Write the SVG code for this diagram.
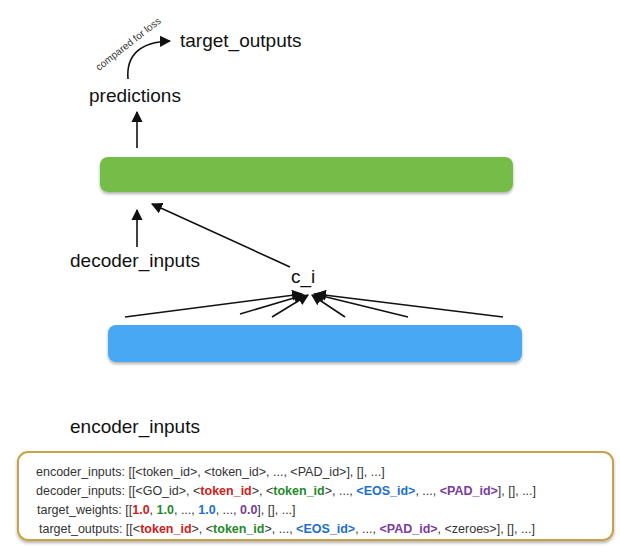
<svg xmlns="http://www.w3.org/2000/svg" width="620" height="554" viewBox="0 0 620 554">
<style>
text{font-family:"Liberation Sans",Arial,sans-serif;fill:#111}
.lbl{font-size:19px}
.small{font-size:12.5px;fill:#333}
.b{font-weight:bold}
.r{fill:#d0201a}.g{fill:#1f8a2a}.bl{fill:#1a6fd0}.p{fill:#7a3aa0}
.c{stroke:#111;stroke-width:1.6;fill:none;marker-end:url(#ah)}
</style>
<defs>
<marker id="ah" viewBox="0 0 10 10" refX="9" refY="5" markerWidth="7" markerHeight="7" orient="auto-start-reverse"><path d="M0,0L10,5L0,10z" fill="#111"/></marker>
<filter id="sh" x="-5%" y="-20%" width="110%" height="150%"><feDropShadow dx="0" dy="2" stdDeviation="1.5" flood-opacity="0.3"/></filter>
</defs>
<g id="decoder"><rect x="100" y="157" width="413" height="35" rx="8" fill="#76bc48" filter="url(#sh)"/></g>
<g id="encoder"><rect x="108" y="325" width="414" height="37" rx="8" fill="#4aa8f4" filter="url(#sh)"/></g>
<g id="predictions"><text class="lbl" x="89" y="102">predictions</text></g>
<g id="target_outputs"><text class="lbl" x="180" y="47">target_outputs</text></g>
<g id="decoder_inputs"><text class="lbl" x="70" y="267">decoder_inputs</text></g>
<g id="c_i"><text class="lbl" x="291" y="283">c_i</text></g>
<g id="encoder_inputs"><text class="lbl" x="70" y="433">encoder_inputs</text></g>
<g id="connectors">
<line class="c" x1="137" y1="148" x2="137" y2="112"/>
<path class="c" d="M128,79 C126,55 140,42 170,41"/>
<text x="0" y="0" font-size="10" transform="translate(99,71) rotate(-38)" style="fill:#333">compared for loss</text>
<line class="c" x1="137" y1="247" x2="137" y2="210"/>
<line class="c" x1="290" y1="267" x2="152" y2="204"/>
<line class="c" x1="125" y1="317" x2="302" y2="294"/>
<line class="c" x1="240" y1="314" x2="304" y2="295"/>
<line class="c" x1="272" y1="317" x2="308" y2="295"/>
<line class="c" x1="345" y1="317" x2="312" y2="295"/>
<line class="c" x1="408" y1="317" x2="314" y2="294"/>
<line class="c" x1="503" y1="317" x2="316" y2="294"/>
</g>
<g id="legend">
<rect x="18" y="452" width="595" height="88" rx="10" fill="#fff" stroke="#c9a24a" stroke-width="2" filter="url(#sh)"/>
<text class="small" x="36" y="476">encoder_inputs: [[&lt;token_id&gt;, &lt;token_id&gt;, ..., &lt;PAD_id&gt;], [], ...]</text>
<text class="small" x="36" y="495">decoder_inputs: [[&lt;GO_id&gt;, &lt;<tspan class="r b">token_id</tspan>&gt;, &lt;<tspan class="g b">token_id</tspan>&gt;, ..., <tspan class="bl b">&lt;EOS_id&gt;</tspan>, ..., <tspan class="p b">&lt;PAD_id&gt;</tspan>], [], ...]</text>
<text class="small" x="37" y="514">target_weights: [[<tspan class="r b">1.0</tspan>, <tspan class="g b">1.0</tspan>, ..., <tspan class="bl b">1.0</tspan>, ..., <tspan class="p b">0.0</tspan>], [], ...]</text>
<text class="small" x="39" y="533">target_outputs: [[&lt;<tspan class="r b">token_id</tspan>&gt;, &lt;<tspan class="g b">token_id</tspan>&gt;, ..., <tspan class="bl b">&lt;EOS_id&gt;</tspan>, ..., <tspan class="p b">&lt;PAD_id&gt;</tspan>, &lt;zeroes&gt;], [], ...]</text>
</g>
</svg>
